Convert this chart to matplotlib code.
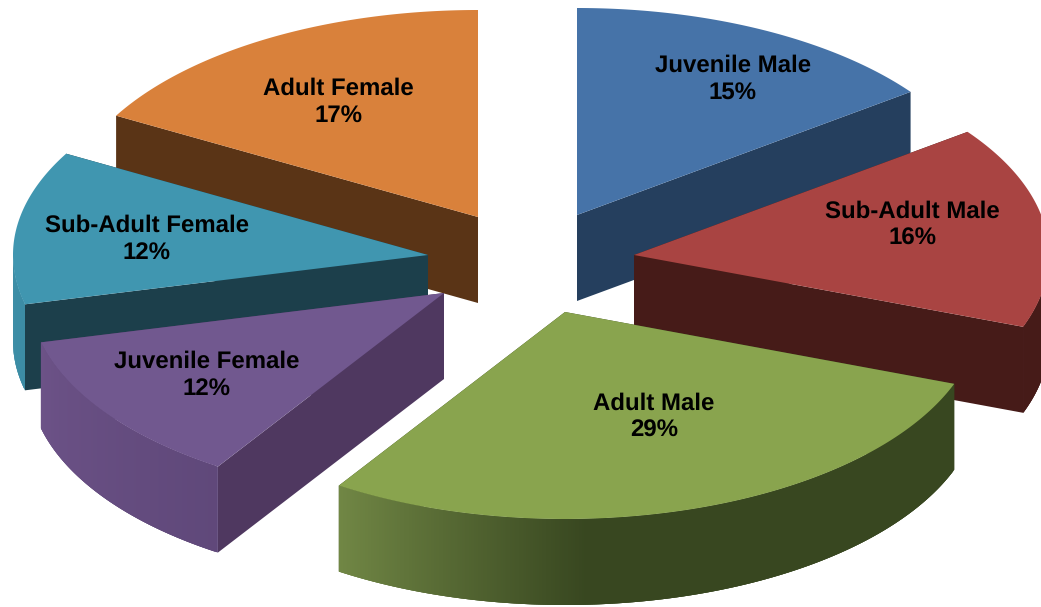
import numpy as np
import matplotlib
matplotlib.use("Agg")
import matplotlib.pyplot as plt
from matplotlib.colors import to_rgb

plt.rcParams["text.hinting"] = "no_hinting"

groups = ["Juvenile Male", "Sub-Adult Male", "Adult Male",
          "Juvenile Female", "Sub-Adult Female", "Adult Female"]
shares = [15, 16, 29, 12, 12, 17]
# slice sizes as they measure on the picture, the labels are rounded
measured = [14.86, 15.78, 28.53, 12.0, 11.97, 16.86]

top_colors = ["#4673A8", "#A94442", "#89A44E", "#71588F", "#4096B0", "#D9813B"]
face_colors = ["#253F5E", "#461B18", "#37461F", "#4F3860", "#1C3F4B", "#5A3416"]
side_dark = ["#253F5E", "#461B18", "#384720", "#55406F", "#357F96", "#5A3416"]
side_light = ["#253F5E", "#461B18", "#718745", "#6C5287", "#3F93AC", "#5A3416"]

# where each exploded slice has its tip, in pixels
tips = [(577, 215), (634, 255), (565, 312), (444, 293), (428, 255), (478, 217)]
label_pos = [(733, 79), (912, 225), (654, 417), (207, 375), (147, 239), (338, 102)]
draw_order = [5, 0, 4, 1, 3, 2]

rx, ry = 415, 207
depth = 86
dark_from = 177


def rim(tip, deg):
    t = np.radians(deg)
    return tip[0] + rx * np.sin(t), tip[1] - ry * np.cos(t)


fig = plt.figure(figsize=(10.41, 6.07), dpi=100)
ax = fig.add_axes([0, 0, 1, 1])
ax.set_xlim(0, 1041)
ax.set_ylim(607, 0)
ax.axis("off")

edges = np.concatenate([[0], np.cumsum(measured)]) / sum(measured) * 360

for i in draw_order:
    tip = tips[i]
    a0, a1 = edges[i], edges[i + 1]
    angles = np.linspace(a0, a1, 200)
    xs, ys = rim(tip, angles)

    # radial walls
    for a in (a0, a1):
        ex, ey = rim(tip, a)
        ax.fill([tip[0], ex, ex, tip[0]], [tip[1], ey, ey + depth, tip[1] + depth],
                color=face_colors[i], lw=0)

    # outer wall, only the front half of the ellipse shows
    lo, hi = max(a0, 90), min(a1, 270)
    if hi > lo:
        strip = np.arange(lo, hi, 0.25)
        strip = np.r_[strip, hi]
        light, dark = np.array(to_rgb(side_light[i])), np.array(to_rgb(side_dark[i]))
        for k in range(len(strip) - 1):
            # each strip runs on under the next one so no seams show
            s0, s1 = strip[k], strip[min(k + 3, len(strip) - 1)]
            f = np.clip((s0 - dark_from) / (a1 - dark_from), 0, 1) if a1 > dark_from else 0
            part = np.linspace(s0, s1, 6)
            px, py = rim(tip, part)
            ax.fill(np.r_[px, px[::-1]], np.r_[py, py[::-1] + depth],
                    color=dark + (light - dark) * f, lw=0)

    ax.fill(np.r_[tip[0], xs], np.r_[tip[1], ys], color=top_colors[i], lw=0)

for name, share, (x, y) in zip(groups, shares, label_pos):
    ax.text(x, y, f"{name}\n{share}%", ha="center", va="center", color="black",
            family="Liberation Sans", fontweight="bold", fontsize=17.3, linespacing=1.25)

fig.savefig("out.png", dpi=100)
